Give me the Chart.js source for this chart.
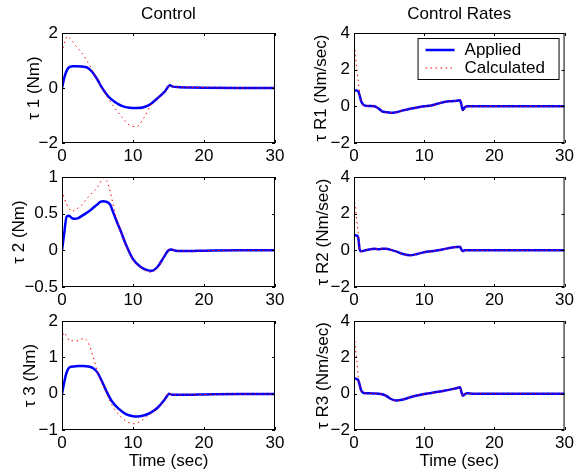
<!DOCTYPE html>
<html>
<head>
<meta charset="utf-8">
<script src="https://cdn.jsdelivr.net/npm/chart.js@4.4.1/dist/chart.umd.min.js"></script>
<style>
  html, body { margin: 0; padding: 0; background: #fff; }
  #wrap { position: relative; width: 577px; height: 472px; }
  #wrap canvas { position: absolute; left: 0; top: 0; }
</style>
</head>
<body>
<div id="wrap">
  <canvas id="tau1" width="577" height="472"></canvas>
  <canvas id="tau2" width="577" height="472"></canvas>
  <canvas id="tau3" width="577" height="472"></canvas>
  <canvas id="rate1" width="577" height="472"></canvas>
  <canvas id="rate2" width="577" height="472"></canvas>
  <canvas id="rate3" width="577" height="472"></canvas>
</div>
<script>
// time samples (sec) and values

// Control, tau 1
const t1 = [0, 0.4, 0.8, 1.1, 1.5, 2, 2.8, 3.5, 4.2, 5, 5.6, 6.5, 7.5, 8.5, 9.5, 10.5, 11.5, 12.5, 13.5, 14.5, 15.2, 15.6, 16.5, 18, 20, 25, 30];
const tau1Applied = [0, 0.45, 0.7, 0.77, 0.79, 0.79, 0.78, 0.75, 0.6, 0.3, 0.02, -0.3, -0.52, -0.66, -0.72, -0.73, -0.7, -0.58, -0.36, -0.12, 0.1, 0.05, 0.03, 0.02, 0.01, 0, 0];
const tau1Calc = [1.27, 1.7, 1.88, 1.8, 1.68, 1.52, 1.27, 1.0, 0.68, 0.3, 0.0, -0.38, -0.75, -1.08, -1.35, -1.4, -1.1, -0.63, -0.37, -0.12, 0.1, 0.05, 0.03, 0.02, 0.01, 0, 0];

// Control, tau 2
const t2 = [0, 0.3, 0.65, 1, 1.4, 1.8, 2.3, 2.8, 3.3, 3.9, 4.4, 4.9, 5.4, 5.8, 6.3, 6.8, 7.2, 7.6, 8.2, 9, 10, 11, 12, 12.6, 13.5, 14.3, 15, 15.4, 16, 18, 20, 25, 30];
const tau2Applied = [0, 0.22, 0.46, 0.47, 0.44, 0.43, 0.44, 0.47, 0.5, 0.54, 0.58, 0.62, 0.66, 0.67, 0.66, 0.62, 0.52, 0.42, 0.28, 0.08, -0.12, -0.22, -0.27, -0.28, -0.22, -0.1, 0.0, 0.01, -0.005, -0.01, -0.005, 0, 0];
const tau2Calc = [0.82, 0.72, 0.63, 0.57, 0.53, 0.55, 0.58, 0.62, 0.68, 0.75, 0.8, 0.85, 0.93, 0.99, 0.95, 0.8, 0.62, 0.46, 0.28, 0.06, -0.13, -0.23, -0.29, -0.3, -0.23, -0.1, 0.0, 0.01, -0.005, -0.01, -0.005, 0, 0];

// Control, tau 3
const t3 = [0, 0.2, 0.6, 1.1, 1.7, 2.3, 3, 3.7, 4.4, 5, 5.6, 6.3, 7, 8, 9, 10, 10.6, 11.5, 12.5, 13.5, 14.5, 15.1, 15.5, 16.5, 18, 20, 25, 30];
const tau3Applied = [0, 0.2, 0.55, 0.73, 0.75, 0.76, 0.76, 0.75, 0.7, 0.58, 0.35, 0.05, -0.2, -0.42, -0.56, -0.62, -0.63, -0.6, -0.52, -0.38, -0.15, 0.0, -0.03, -0.03, -0.03, -0.02, -0.01, -0.01];
const tau3Calc = [1.2, 1.68, 1.6, 1.45, 1.46, 1.45, 1.52, 1.4, 1.0, 0.6, 0.32, 0.0, -0.3, -0.58, -0.75, -0.83, -0.8, -0.7, -0.55, -0.38, -0.15, 0.03, -0.03, -0.03, -0.03, -0.02, -0.01, -0.01];

// Control Rates share one time grid
const tr = [0, 0.2, 0.4, 0.6, 0.8, 1.0, 1.3, 1.6, 2.2, 2.9, 3.5, 4, 4.6, 5.2, 6, 7, 8, 9, 10, 11, 12, 13, 14, 14.6, 15.1, 15.3, 15.5, 15.8, 16.2, 17, 20, 25, 30];
const rate1Applied = [0.88, 0.87, 0.86, 0.82, 0.6, 0.3, 0.1, 0.04, 0.02, 0.0, -0.12, -0.27, -0.32, -0.35, -0.32, -0.22, -0.13, -0.06, 0.0, 0.05, 0.15, 0.25, 0.28, 0.3, 0.33, 0.1, -0.2, -0.05, 0.01, 0, 0, 0, 0];
const rate1Calc = [3.63, 2.75, 2.05, 1.36, 0.7, 0.3, 0.1, 0.04, 0.02, 0.0, -0.12, -0.27, -0.32, -0.35, -0.32, -0.22, -0.13, -0.06, 0.0, 0.05, 0.15, 0.25, 0.28, 0.3, 0.33, 0.1, -0.2, -0.05, 0.01, 0, 0, 0, 0];
const rate2Applied = [0.83, 0.82, 0.8, 0.7, 0.05, -0.05, -0.03, 0.0, 0.05, 0.08, 0.06, 0.08, 0.09, 0.03, -0.06, -0.2, -0.27, -0.2, -0.1, -0.05, 0.0, 0.08, 0.15, 0.18, 0.2, 0.05, -0.04, 0.0, 0.0, 0, 0, 0, 0];
const rate2Calc = [2.9, 2.3, 1.6, 0.95, 0.05, -0.05, -0.03, 0.0, 0.05, 0.08, 0.06, 0.08, 0.09, 0.03, -0.06, -0.2, -0.27, -0.2, -0.1, -0.05, 0.0, 0.08, 0.15, 0.18, 0.2, 0.05, -0.04, 0.0, 0.0, 0, 0, 0, 0];
const rate3Applied = [0.83, 0.83, 0.8, 0.75, 0.5, 0.2, 0.05, 0.02, 0.02, 0.01, 0.0, -0.03, -0.12, -0.28, -0.38, -0.32, -0.2, -0.1, -0.02, 0.04, 0.1, 0.17, 0.25, 0.3, 0.36, 0.1, -0.12, -0.02, 0.02, 0, 0, 0, 0];
const rate3Calc = [3.45, 2.6, 1.8, 0.95, 0.5, 0.2, 0.05, 0.02, 0.02, 0.01, 0.0, -0.03, -0.12, -0.28, -0.38, -0.32, -0.2, -0.1, -0.02, 0.04, 0.1, 0.17, 0.25, 0.3, 0.36, 0.1, -0.12, -0.02, 0.02, 0, 0, 0, 0];

const FONT = { family: '"Liberation Sans", Arial, Helvetica, sans-serif', size: 17 };
const HALF_LINE = FONT.size * 1.2 / 2;
const W = 577, H = 472;

const pts = (t, v) => t.map((x, i) => ({ x: x, y: v[i] }));
const minus = v => (v < 0 ? '\u2212' + Math.abs(v) : String(v));

// matlab style box with inward ticks on all four sides
const framePlugin = {
  id: 'frame',
  afterDraw(chart) {
    const { ctx, chartArea: a, scales } = chart;
    ctx.save();
    ctx.strokeStyle = '#000';
    ctx.lineWidth = 1;
    ctx.strokeRect(a.left + 0.5, a.top + 0.5, a.right - a.left - 1, a.bottom - a.top - 1);
    const len = 3;
    ctx.beginPath();
    scales.x.ticks.forEach(tk => {
      const px = Math.round(scales.x.getPixelForValue(tk.value)) + 0.5;
      ctx.moveTo(px, a.bottom); ctx.lineTo(px, a.bottom - len);
      ctx.moveTo(px, a.top); ctx.lineTo(px, a.top + len);
    });
    scales.y.ticks.forEach(tk => {
      const py = Math.round(scales.y.getPixelForValue(tk.value)) + 0.5;
      ctx.moveTo(a.left, py); ctx.lineTo(a.left + len, py);
      ctx.moveTo(a.right, py); ctx.lineTo(a.right - len, py);
    });
    ctx.stroke();
    ctx.restore();
  }
};

// legend box inside the top right axes
const boxLegend = {
  id: 'boxLegend',
  afterDraw(chart, args, opts) {
    if (!opts.show) return;
    const { ctx, chartArea: a } = chart;
    const bw = 142, bh = 42;
    const x0 = a.right - 5 - bw, y0 = a.top + 5;
    ctx.save();
    ctx.fillStyle = '#fff';
    ctx.fillRect(x0, y0, bw, bh);
    ctx.strokeStyle = '#000';
    ctx.lineWidth = 1;
    ctx.strokeRect(x0 + 0.5, y0 + 0.5, bw - 1, bh - 1);
    ctx.font = FONT.size + 'px ' + FONT.family;
    ctx.textBaseline = 'middle';
    ctx.fillStyle = '#000';
    chart.data.datasets.forEach((ds, i) => {
      const y = y0 + 12 + i * 18;
      ctx.beginPath();
      ctx.strokeStyle = ds.borderColor;
      ctx.lineWidth = ds.borderWidth;
      ctx.setLineDash(ds.borderDash || []);
      ctx.moveTo(x0 + 8, y);
      ctx.lineTo(x0 + 37, y);
      ctx.stroke();
      ctx.setLineDash([]);
      ctx.fillText(ds.label, x0 + 47, y);
    });
    ctx.restore();
  }
};

function panel(id, cfg) {
  const area = cfg.area; // [left, top, right, bottom] of the axes box
  return new Chart(document.getElementById(id), {
    type: 'line',
    data: {
      datasets: [
        { label: 'Applied', data: pts(cfg.t, cfg.applied), borderColor: '#0000ff', borderWidth: 2.5, order: 1 },
        { label: 'Calculated', data: pts(cfg.t, cfg.calc), borderColor: '#ff0000', borderWidth: 1, borderDash: [1.5, 3.5], order: 0 }
      ]
    },
    options: {
      responsive: false,
      animation: false,
      events: [],
      layout: { padding: { left: 0, top: cfg.title ? 0 : area[1], right: W - area[2], bottom: 0 } },
      elements: { point: { radius: 0 }, line: { cubicInterpolationMode: 'monotone' } },
      plugins: {
        legend: { display: false },
        tooltip: { enabled: false },
        title: {
          display: !!cfg.title, text: cfg.title || '', fullSize: false, color: '#000',
          font: { family: FONT.family, size: FONT.size, weight: 'normal' },
          padding: { top: 14 - HALF_LINE, bottom: area[1] - 14 - HALF_LINE }
        },
        boxLegend: { show: !!cfg.legend }
      },
      scales: {
        x: {
          type: 'linear', min: 0, max: 30,
          grid: { display: false, drawTicks: false },
          border: { display: false },
          ticks: { stepSize: 10, padding: 3, color: '#000', font: FONT, maxRotation: 0 },
          title: { display: !!cfg.xTitle, text: cfg.xTitle || '', color: '#000', font: FONT, padding: { top: 0, bottom: 11 - HALF_LINE } },
          afterFit(s) { s.height = H - area[3]; }
        },
        y: {
          type: 'linear', min: cfg.yRange[0], max: cfg.yRange[1],
          grid: { display: false, drawTicks: false },
          border: { display: false },
          ticks: { stepSize: cfg.yStep, padding: 4, color: '#000', font: FONT, callback: minus },
          title: { display: true, text: cfg.yTitle, color: '#000', font: FONT, padding: { top: cfg.yTitleX - HALF_LINE, bottom: 0 } },
          afterFit(s) { s.width = area[0]; }
        }
      }
    },
    plugins: [framePlugin, boxLegend]
  });
}

panel('tau1', { area: [62, 33, 275, 143], t: t1, applied: tau1Applied, calc: tau1Calc, yRange: [-2, 2], yStep: 2, yTitle: '\u03c4 1 (Nm)', yTitleX: 34, title: 'Control' });
panel('tau2', { area: [62, 177, 275, 287], t: t2, applied: tau2Applied, calc: tau2Calc, yRange: [-0.5, 1], yStep: 0.5, yTitle: '\u03c4 2 (Nm)', yTitleX: 19 });
panel('tau3', { area: [62, 321, 275, 430], t: t3, applied: tau3Applied, calc: tau3Calc, yRange: [-1, 2], yStep: 1, yTitle: '\u03c4 3 (Nm)', yTitleX: 30, xTitle: 'Time (sec)' });
panel('rate1', { area: [354, 33, 567, 143], t: tr, applied: rate1Applied, calc: rate1Calc, yRange: [-2, 4], yStep: 2, yTitle: '\u03c4 R1 (Nm/sec)', yTitleX: 321, title: 'Control Rates', legend: true });
panel('rate2', { area: [354, 177, 567, 287], t: tr, applied: rate2Applied, calc: rate2Calc, yRange: [-2, 4], yStep: 2, yTitle: '\u03c4 R2 (Nm/sec)', yTitleX: 323 });
panel('rate3', { area: [354, 321, 567, 430], t: tr, applied: rate3Applied, calc: rate3Calc, yRange: [-2, 4], yStep: 2, yTitle: '\u03c4 R3 (Nm/sec)', yTitleX: 323, xTitle: 'Time (sec)' });
</script>
</body>
</html>
